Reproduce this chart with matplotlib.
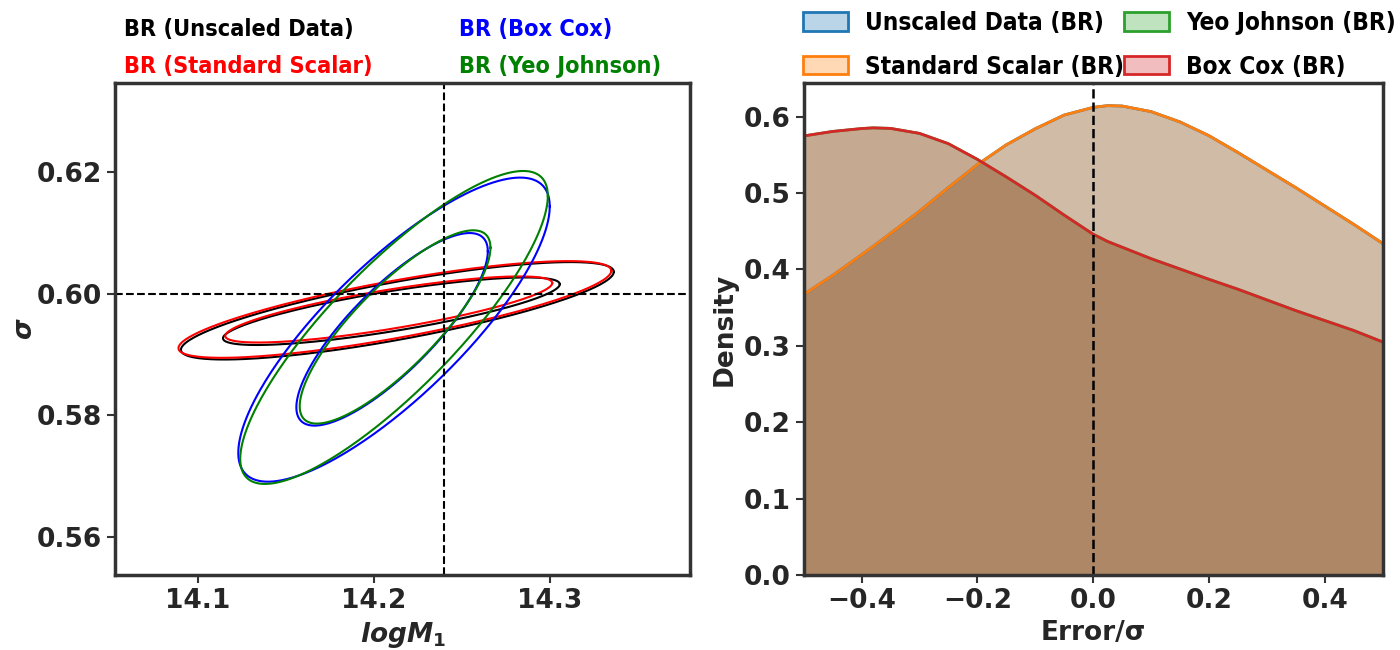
import numpy as np
import matplotlib
matplotlib.use("Agg")
import matplotlib.pyplot as plt
from matplotlib.lines import Line2D
from matplotlib.patches import Patch
from matplotlib import font_manager

plt.rcParams['font.family'] = ['DejaVu Sans']
plt.rcParams['font.weight'] = 'bold'
plt.rcParams['mathtext.fontset'] = 'custom'
plt.rcParams['mathtext.it'] = 'DejaVu Sans:bold:italic'
plt.rcParams['mathtext.rm'] = 'DejaVu Sans:bold'
plt.rcParams['mathtext.bf'] = 'DejaVu Sans:bold'

# --- left panel: confidence contours (inner / outer) per method ---
methods_left = ['BR (Unscaled Data)', 'BR (Standard Scalar)', 'BR (Box Cox)', 'BR (Yeo Johnson)']
colors_left = ['black', 'red', 'blue', 'green']
# centre x, centre y, half width, half height, correlation  (inner, outer)
cx_inner = [14.2101, 14.2086, 14.2105, 14.2122]
cy_inner = [0.59712, 0.59741, 0.59414, 0.59453]
hx_inner = [0.0957, 0.0929, 0.0544, 0.0542]
hy_inner = [0.00556, 0.00544, 0.01585, 0.01591]
rho_inner = [0.80, 0.80, 0.81, 0.82]
cx_outer = [14.2135, 14.2121, 14.2116, 14.2116]
cy_outer = [0.59719, 0.59741, 0.59409, 0.59445]
hx_outer = [0.1230, 0.1230, 0.0885, 0.0874]
hy_outer = [0.00802, 0.00796, 0.02503, 0.02576]
rho_outer = [0.80, 0.80, 0.81, 0.84]
true_logM1 = 14.24
true_sigma = 0.60

# --- right panel: KDE of Error/sigma ---
err_x = [-0.5, -0.45, -0.4, -0.38, -0.35, -0.3, -0.25, -0.2, -0.15, -0.1, -0.05,
         0.0, 0.025, 0.05, 0.1, 0.15, 0.2, 0.25, 0.3, 0.35, 0.4, 0.45, 0.5]
dens_unscaled = [0.367, 0.392, 0.419, 0.430, 0.447, 0.476, 0.507, 0.537, 0.563, 0.584, 0.602,
                 0.612, 0.6143, 0.6138, 0.6065, 0.593, 0.575, 0.553, 0.530, 0.507, 0.483, 0.459, 0.434]
dens_standard = [0.367, 0.392, 0.419, 0.430, 0.447, 0.476, 0.507, 0.537, 0.563, 0.584, 0.602,
                 0.612, 0.6143, 0.6138, 0.6065, 0.593, 0.575, 0.553, 0.530, 0.507, 0.483, 0.459, 0.434]
dens_yeo = [0.5746, 0.5805, 0.5843, 0.5852, 0.5845, 0.578, 0.5645, 0.544, 0.521, 0.497, 0.471,
            0.446, 0.4365, 0.429, 0.414, 0.4005, 0.387, 0.374, 0.360, 0.346, 0.333, 0.320, 0.305]
dens_boxcox = [0.5746, 0.5805, 0.5843, 0.5852, 0.5845, 0.578, 0.5645, 0.544, 0.521, 0.497, 0.471,
               0.446, 0.4365, 0.429, 0.414, 0.4005, 0.387, 0.374, 0.360, 0.346, 0.333, 0.320, 0.305]
labels_right = ['Unscaled Data (BR)', 'Standard Scalar (BR)', 'Yeo Johnson (BR)', 'Box Cox (BR)']
colors_right = ['#1f77b4', '#ff7f0e', '#2ca02c', '#d62728']

leg_font_left = font_manager.FontProperties(family='DejaVu Sans', weight='bold',
                                            stretch='condensed', size=16.8)
leg_font_right = font_manager.FontProperties(family='DejaVu Sans', weight='bold',
                                             stretch='condensed', size=17.5)

fig = plt.figure(figsize=(14, 6.5), dpi=100)
ax1 = fig.add_axes([0.0821, 0.1154, 0.411, 0.757])
ax2 = fig.add_axes([0.574, 0.1154, 0.4136, 0.757])


def ellipse(cx, cy, hx, hy, rho):
    t = np.linspace(0, 2 * np.pi, 300)
    x = cx + hx * np.cos(t)
    y = cy + hy * (rho * np.cos(t) + np.sqrt(1 - rho ** 2) * np.sin(t))
    return x, y


for i in range(4):
    for cx, cy, hx, hy, r in [(cx_outer[i], cy_outer[i], hx_outer[i], hy_outer[i], rho_outer[i]),
                              (cx_inner[i], cy_inner[i], hx_inner[i], hy_inner[i], rho_inner[i])]:
        x, y = ellipse(cx, cy, hx, hy, r)
        ax1.plot(x, y, color=colors_left[i], lw=1.5)

ax1.axvline(true_logM1, color='black', ls='--', lw=1.5)
ax1.axhline(true_sigma, color='black', ls='--', lw=1.5)
ax1.set_xlim(14.053, 14.38)
ax1.set_ylim(0.5537, 0.6347)
ax1.set_xticks([14.1, 14.2, 14.3])
ax1.set_yticks([0.56, 0.58, 0.60, 0.62])
ax1.set_xlabel(r'$logM_1$', fontsize=19)
ax1.set_ylabel(r'$\sigma$', fontsize=19, labelpad=-1)

handles = [Line2D([], [], color=c, lw=0) for c in colors_left]
ax1.legend(handles, methods_left, ncol=2, frameon=False, handlelength=0, handletextpad=0,
           labelcolor=colors_left, prop=leg_font_left,
           loc='lower left', bbox_to_anchor=(0.0, 0.991), columnspacing=3.7,
           borderaxespad=0, labelspacing=0.6)

dens_all = [dens_unscaled, dens_standard, dens_yeo, dens_boxcox]
for d, c in zip(dens_all, colors_right):
    ax2.fill_between(err_x, d, color=c, alpha=0.3, lw=0)
    ax2.plot(err_x, d, color=c, lw=2)
ax2.axvline(0.0, color='black', ls='--', lw=1.8)
ax2.set_xlim(-0.5, 0.5)
ax2.set_ylim(0, 0.644)
ax2.set_xticks([-0.4, -0.2, 0.0, 0.2, 0.4])
ax2.set_yticks([0.0, 0.1, 0.2, 0.3, 0.4, 0.5, 0.6])
ax2.set_xlabel('Error/σ', fontsize=19, fontweight='bold')
ax2.set_ylabel('Density', fontsize=19, fontweight='bold')

patches = [Patch(facecolor=matplotlib.colors.to_rgba(c, 0.3), edgecolor=c, lw=2) for c in colors_right]
ax2.legend(patches, labels_right, ncol=2, frameon=False, prop=leg_font_right,
           loc='lower left', bbox_to_anchor=(-0.017, 0.989), borderaxespad=0,
           handlelength=1.85, handleheight=0.8, handletextpad=0.7, columnspacing=0.0,
           labelspacing=0.8)

for ax in (ax1, ax2):
    for s in ax.spines.values():
        s.set_linewidth(2.5)
        s.set_color('#333333')
    ax.tick_params(axis='both', labelsize=19, width=1.5, length=6, color='#333333',
                   labelcolor='#262626')
    for lab in ax.get_xticklabels() + ax.get_yticklabels():
        lab.set_fontweight('bold')
    ax.xaxis.label.set_color('#262626')
    ax.yaxis.label.set_color('#262626')

fig.savefig('out.png', dpi=100)
